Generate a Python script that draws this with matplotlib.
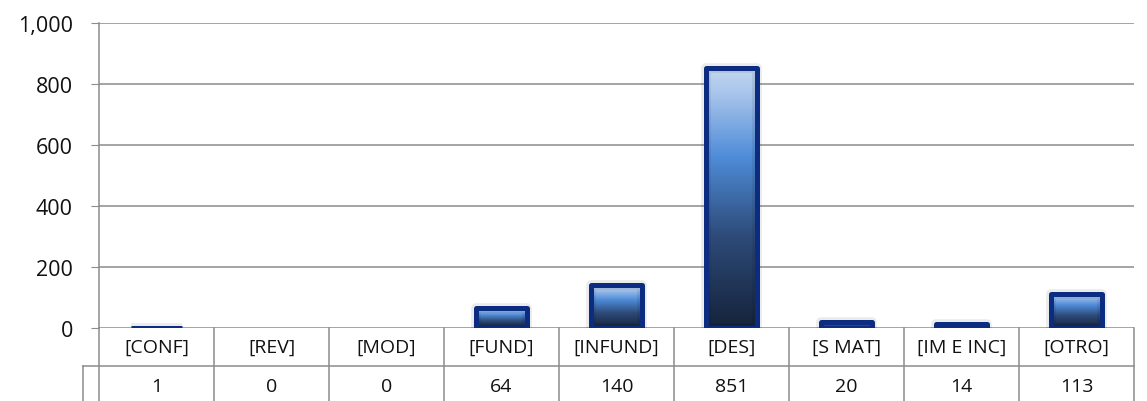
import numpy as np
import matplotlib.pyplot as plt
import matplotlib.patheffects as pe
from matplotlib.colors import LinearSegmentedColormap
from matplotlib.ticker import FuncFormatter

categories = ['[CONF]', '[REV]', '[MOD]', '[FUND]', '[INFUND]', '[DES]', '[S MAT]', '[IM E INC]', '[OTRO]']
counts = [1, 0, 0, 64, 140, 851, 20, 14, 113]

plt.rcParams['font.family'] = ['Open Sans', 'DejaVu Sans']

W, H = 1147, 402
fig = plt.figure(figsize=(W / 100, H / 100), dpi=100)
# plot area in pixels: x 99..1134, y 24..329
ax = fig.add_axes([99 / W, (H - 329) / H, 1035 / W, 305 / H])

x = np.arange(len(categories))
grid_col = '#8c8c8c'
text_col = '#111111'

# gradient fill: dark navy at the bottom -> bright blue -> pale blue at top
grad = LinearSegmentedColormap.from_list('bar', [
    (0.0, '#16233b'),
    (0.35, '#2d4a78'),
    (0.66, '#4f8cd8'),
    (0.9, '#a7c4eb'),
    (1.0, '#c3d7f0'),
])

bars = ax.bar(x, counts, width=0.435, facecolor='none', edgecolor='#0b2c80',
              linewidth=3.6, zorder=3)
for b, v in zip(bars, counts):
    b.set_joinstyle('round')
    # soft halo like the office shadow
    b.set_path_effects([pe.Stroke(linewidth=7, foreground='black', alpha=0.08), pe.Normal()])
    if v == 0:
        b.set_visible(False)
        continue
    x0, w, h = b.get_x(), b.get_width(), b.get_height()
    img = ax.imshow(np.linspace(0, 1, 256).reshape(-1, 1), cmap=grad, origin='lower',
                    extent=[x0, x0 + w, 0, h], aspect='auto', zorder=2)
    img.set_clip_path(b)

ax.set_xlim(-0.5, len(categories) - 0.5)
ax.set_ylim(0, 1000)
ax.set_yticks(range(0, 1001, 200))
ax.yaxis.set_major_formatter(FuncFormatter(lambda v, p: f'{int(v):,}'))
ax.tick_params(axis='y', length=5.8, color=grid_col, labelsize=15.5, labelcolor=text_col, pad=13)
ax.set_xticks([])
ax.grid(axis='y', color=grid_col, linewidth=1.1, zorder=0)
ax.set_axisbelow(True)
for s in ['top', 'right', 'bottom']:
    ax.spines[s].set_visible(False)
ax.spines['left'].set_color(grid_col)
ax.spines['left'].set_linewidth(1.1)

# data table under the axis
tr = ax.get_xaxis_transform()
row1 = (329 - 367) / 305
row2 = (329 - 402) / 305
key_x = -0.5 - 16 / (1035 / len(categories))
ax.plot([-0.5, -0.5], [0, row2], transform=tr, color=grid_col, lw=1.1, clip_on=False)
ax.plot([key_x, len(categories) - 0.5], [row1, row1], transform=tr, color=grid_col, lw=1.1, clip_on=False)
ax.plot([key_x, key_x], [row1, row2], transform=tr, color=grid_col, lw=1.1, clip_on=False)
for i in range(1, len(categories) + 1):
    ax.plot([i - 0.5, i - 0.5], [0, row2], transform=tr, color=grid_col, lw=1.1, clip_on=False)
for xi, cat, v in zip(x, categories, counts):
    ax.text(xi, (329 - 348) / 305, cat, transform=tr, ha='center', va='center', fontsize=14, color=text_col)
    ax.text(xi, (329 - 387) / 305, str(v), transform=tr, ha='center', va='center',
            fontsize=14, color=text_col)

fig.savefig('out.png', dpi=100)
